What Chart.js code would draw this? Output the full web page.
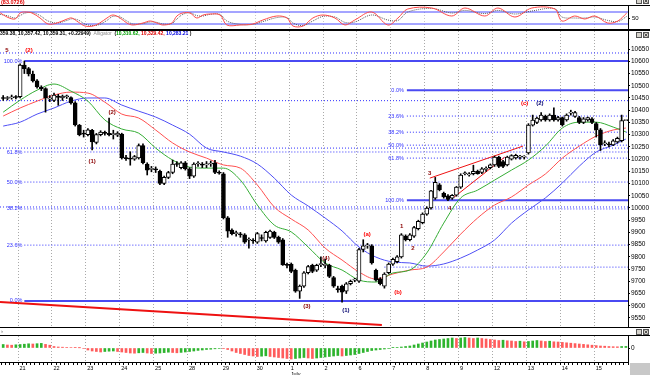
<!DOCTYPE html>
<html>
<head>
<meta charset="utf-8">
<title>Alligator</title>
<style>
  body { margin: 0; background: #fff; }
  .wrap { position: relative; width: 650px; height: 375px; overflow: hidden; background: #fff; }
  .wrap canvas { position: absolute; left: 0; }
</style>
</head>
<body>
<div class="wrap">
  <canvas id="osc" width="650" height="31" style="top:0"></canvas>
  <canvas id="main" width="650" height="296" style="top:31px"></canvas>
  <canvas id="hist" width="650" height="48" style="top:327px"></canvas>
</div>

<script src="https://cdn.jsdelivr.net/npm/chart.js"></script>
<script>
// ---- data (hourly bars, 8 per day) ----
const dayLabels = ['21', '22', '23', '24', '25', '28', '29', '30', '1', '2', '6', '7', '8', '9', '12', '13', '14', '15', '16'];
const barsPerDay = 8;
const firstDayEdge = 3.5;

const opens = [
  10452, 10448, 10450, 10455, 10455, 10585, 10570, 10548, 10520, 10495,
  10488, 10445, 10440, 10458, 10450, 10455, 10452, 10430, 10338, 10303,
  10300, 10318, 10268, 10300, 10308, 10305, 10300, 10298, 10302, 10205,
  10202, 10200, 10205, 10255, 10180, 10158, 10160, 10150, 10100, 10125,
  10145, 10180, 10165, 10185, 10160, 10130, 10180, 10178, 10176, 10180,
  10185, 10145, 10140, 9960, 9910, 9895, 9892, 9890, 9868, 9866,
  9860, 9878, 9865, 9880, 9900, 9880, 9870, 9767, 9770, 9745,
  9660, 9680, 9735, 9765, 9745, 9768, 9765, 9765, 9715, 9670,
  9680, 9660, 9690, 9705, 9700, 9830, 9845, 9845, 9745, 9710,
  9680, 9735, 9770, 9780, 9800, 9885, 9870, 9885, 9915, 9940,
  9975, 10000, 10040, 10095, 10060, 10050, 10040, 10052, 10085, 10140,
  10135, 10140, 10150, 10145, 10158, 10165, 10176, 10208, 10190, 10176,
  10200, 10205, 10208, 10208, 10225, 10339, 10350, 10360, 10375, 10360,
  10380, 10360, 10370, 10360, 10388, 10375, 10370, 10350, 10360, 10365,
  10345, 10320, 10262, 10260, 10258, 10270, 10275, 10357
];
const highs = [
  10460, 10456, 10462, 10460, 10590, 10601, 10575, 10560, 10525, 10500,
  10492, 10460, 10470, 10465, 10462, 10462, 10455, 10435, 10342, 10318,
  10325, 10322, 10305, 10316, 10315, 10368, 10318, 10312, 10306, 10215,
  10230, 10215, 10262, 10262, 10185, 10170, 10168, 10155, 10130, 10150,
  10196, 10190, 10190, 10190, 10165, 10185, 10190, 10186, 10190, 10192,
  10195, 10152, 10145, 9965, 9915, 9905, 9900, 9895, 9878, 9875,
  9900, 9890, 9905, 9910, 9905, 9885, 9875, 9775, 9775, 9750,
  9685, 9740, 9765, 9770, 9770, 9800, 9790, 9770, 9720, 9680,
  9685, 9695, 9705, 9712, 9835, 9870, 9855, 9850, 9750, 9715,
  9735, 9775, 9795, 9805, 9895, 9890, 9895, 9925, 9950, 9980,
  10005, 10072, 10125, 10100, 10065, 10055, 10055, 10088, 10140, 10148,
  10145, 10175, 10155, 10165, 10168, 10180, 10212, 10212, 10195, 10212,
  10218, 10220, 10215, 10214, 10345, 10380, 10372, 10390, 10380, 10385,
  10410, 10375, 10372, 10385, 10400, 10395, 10375, 10370, 10372, 10370,
  10350, 10325, 10275, 10270, 10280, 10290, 10380, 10359
];
const lows = [
  10440, 10442, 10445, 10446, 10450, 10550, 10540, 10515, 10490, 10480,
  10392, 10435, 10435, 10420, 10440, 10448, 10425, 10335, 10295, 10290,
  10295, 10237, 10262, 10295, 10298, 10295, 10282, 10292, 10200, 10195,
  10175, 10195, 10200, 10180, 10135, 10148, 10145, 10095, 10095, 10120,
  10140, 10170, 10160, 10155, 10120, 10125, 10170, 10165, 10165, 10170,
  10140, 10138, 9955, 9880, 9890, 9885, 9880, 9855, 9836, 9855,
  9855, 9865, 9860, 9875, 9875, 9855, 9765, 9755, 9735, 9655,
  9630, 9675, 9730, 9735, 9740, 9760, 9755, 9715, 9675, 9655,
  9615, 9650, 9685, 9698, 9695, 9820, 9835, 9770, 9700, 9685,
  9672, 9730, 9765, 9775, 9795, 9865, 9865, 9880, 9910, 9935,
  9970, 9995, 10035, 10070, 10040, 10030, 10035, 10048, 10080, 10135,
  10130, 10135, 10138, 10140, 10150, 10160, 10170, 10165, 10165, 10172,
  10196, 10200, 10200, 10200, 10220, 10335, 10345, 10355, 10355, 10355,
  10355, 10355, 10335, 10355, 10380, 10370, 10345, 10345, 10355, 10345,
  10290, 10235, 10255, 10250, 10255, 10265, 10270, 10357
];
const closes = [
  10448, 10450, 10455, 10452, 10585, 10570, 10548, 10520, 10495, 10488,
  10450, 10450, 10462, 10452, 10458, 10456, 10430, 10340, 10300, 10302,
  10320, 10270, 10300, 10310, 10305, 10300, 10302, 10306, 10205, 10202,
  10200, 10210, 10255, 10185, 10155, 10160, 10156, 10100, 10125, 10145,
  10180, 10178, 10185, 10160, 10130, 10180, 10182, 10175, 10178, 10182,
  10145, 10142, 9960, 9905, 9895, 9896, 9890, 9860, 9870, 9865,
  9895, 9875, 9900, 9905, 9880, 9860, 9767, 9765, 9740, 9660,
  9680, 9735, 9760, 9740, 9765, 9770, 9768, 9720, 9680, 9665,
  9655, 9690, 9700, 9705, 9830, 9845, 9846, 9775, 9705, 9690,
  9730, 9770, 9790, 9800, 9890, 9870, 9890, 9920, 9945, 9975,
  10000, 10070, 10105, 10075, 10045, 10035, 10052, 10085, 10135, 10143,
  10140, 10150, 10140, 10160, 10160, 10176, 10208, 10170, 10170, 10208,
  10214, 10215, 10208, 10209, 10339, 10360, 10368, 10380, 10360, 10380,
  10360, 10370, 10340, 10380, 10390, 10390, 10350, 10365, 10370, 10350,
  10320, 10258, 10265, 10258, 10275, 10285, 10357, 10359
];

// alligator lines, read every 4 bars
const lineIdx = [0, 4, 8, 12, 16, 20, 24, 28, 32, 36, 40, 44, 48, 52, 56, 60, 64, 68, 72, 76,
  80, 84, 88, 92, 96, 100, 104, 108, 112, 116, 120, 124, 128, 132, 136, 140, 144, 147];
const lips = [10392, 10441, 10482, 10507, 10478, 10437, 10360, 10323, 10306, 10245,
  10196, 10167, 10163, 10163, 10114, 10012, 9930, 9902, 9840, 9775,
  9746, 9705, 9697, 9734, 9746, 9816, 9938, 10041, 10073, 10114,
  10155, 10196, 10253, 10327, 10351, 10351, 10331, 10311];
const teeth = [10376, 10409, 10437, 10462, 10474, 10470, 10433, 10384, 10368, 10319,
  10266, 10229, 10204, 10176, 10163, 10094, 10004, 9955, 9910, 9836,
  9787, 9738, 9709, 9730, 9746, 9758, 9820, 9893, 9959, 10012,
  10045, 10094, 10139, 10204, 10253, 10294, 10319, 10327];
const jaw = [10335, 10351, 10384, 10409, 10437, 10450, 10450, 10421, 10396, 10372,
  10339, 10302, 10245, 10229, 10212, 10180, 10122, 10053, 10008, 9959,
  9906, 9840, 9799, 9779, 9775, 9762, 9771, 9795, 9828, 9869,
  9938, 9992, 10041, 10102, 10171, 10229, 10257, 10282];

// fibonacci levels
const leftFibPct = ['100.0%', '61.8%', '50.0%', '38.2%', '23.6%', '0.0%'];
const leftFibLevels = [10601, 10229, 10106, 9996, 9848, 9619];
const leftFibFrom = 5;
const rightFibPct = ['0.0%', '23.6%', '38.2%', '50.0%', '61.8%', '100.0%'];
const rightFibLevels = [10482, 10376, 10310, 10257, 10204, 10032];
const rightFibFrom = 95.3;
const extraLevels = [10634, 10439, 10245, 10004];
const lateLevel = 9758;
const lateLevelFrom = 90;

// trend lines [[bar, price], [bar, price]]
const trendLines = [
  [[-0.75, 9615], [89.4, 9521]],
  [[100.7, 10122], [122.7, 10253]],
  [[106.2, 10041], [118.4, 10208]]
];

const waveLabels = [
  ['5', 0.9, 10646, 'dark'], ['(2)', 6.1, 10646, 'red'], ['(2)', 25.7, 10390, 'dark'],
  ['(1)', 21, 10190, 'dark'], ['(4)', 76.2, 9792, 'dark'], ['(3)', 71.7, 9598, 'dark'],
  ['(1)', 80.9, 9583, 'navy'], ['(a)', 85.9, 9893, 'red'], ['(b)', 93.2, 9656, 'red'],
  ['1', 94.1, 9926, 'dark'], ['2', 96.7, 9836, 'dark'], ['3', 100.7, 10143, 'dark'],
  ['4', 105.4, 10000, 'dark'], ['(c)', 123.1, 10429, 'red'], ['(2)', 126.7, 10429, 'navy']
];

const priceTicks = [10650, 10600, 10550, 10500, 10450, 10400, 10350, 10300, 10250, 10200, 10150, 10100,
  10050, 10000, 9950, 9900, 9850, 9800, 9750, 9700, 9650, 9600, 9550];

// histogram (per bar)
const aoVals = [
  3.5, 3, 2.8, 3.2, 3.5, 3.8, 4.2, 4, 4.3, 4.6,
  3.6, 2.8, 1.5, 1, 0.8, 0.6, 0.5, 0.3, 0.2, -0.5,
  -2, -3, -3.5, -4, -3.5, -3.2, -3, -3.5, -4, -4.5,
  -5, -5.2, -4.8, -4.5, -5, -5.5, -5.2, -5, -4.6, -4.2,
  -4.5, -4.8, -4.4, -4, -3.5, -3, -2.4, -2, -1.5, -1.2,
  -0.8, -0.5, -0.6, -1.5, -3, -4.5, -5.5, -6.5, -7.5, -8,
  -8.5, -8.2, -7.8, -8.5, -9, -9.5, -10, -10.5, -11, -10.5,
  -10, -9.5, -10, -10.5, -10, -9.5, -9, -8.5, -8, -7.5,
  -8, -7.5, -7, -6.5, -5.5, -4.5, -3.5, -2.5, -2, -1.5,
  -1, -0.5, 0.3, 0.6, 1, 1.5, 2, 3, 4, 5,
  6, 7, 8, 8.5, 9, 9.5, 10, 9.5, 10, 10.5,
  10, 9.5, 10, 9.5, 9, 8.5, 8, 7.5, 7.8, 7.2,
  7, 6.5, 6.8, 6.2, 6.5, 7, 7.5, 7, 6.5, 6.8,
  6.2, 6, 5.6, 5.2, 4.8, 4.4, 4, 3.6, 3.2, 2.8,
  2.4, 2, 1.8, 1.5, 1.3, 1.2, 1.5, 1.6
];

// top oscillator
const oscIdx = [-0.7, 0.9, 2.8, 4.0, 5.1, 6.8, 8.7, 10.6, 12.7, 15.1,
  16.2, 17.7, 19.3, 21.2, 22.8, 24.5, 25.9, 27.6, 29.2, 30.6,
  33.0, 34.7, 36.3, 37.7, 39.8, 41.0, 42.4, 44.1, 45.7, 47.2,
  48.8, 51.2, 52.8, 55.9, 58.9, 61.3, 64.6, 67.0, 68.4, 70.8,
  73.1, 75.5, 78.3, 80.7, 83.0, 87.0, 90.8, 93.2, 95.5, 101.2,
  105.9, 109.0, 113.7, 116.8, 120.8, 124.8, 130.2, 131.9, 134.9, 137.3,
  139.7, 142.7, 145.1, 147.2];
const oscFast = [76, 55, 45, 75, 80, 75, 50, 20, 25, 45, 50, 30, 10, 10, 25, 50, 65, 50, 25, 15,
  25, 35, 25, 15, 25, 60, 75, 75, 50, 65, 70, 65, 15, 15, 20, 40, 60, 50, 10, 10,
  50, 65, 50, 15, 40, 80, 15, 50, 95, 100, 60, 100, 60, 100, 55, 100, 95, 35, 60, 45,
  60, 25, 35, 75];
const oscSlow = [68, 62, 50, 62, 74, 78, 62, 35, 25, 38, 46, 40, 20, 12, 18, 38, 58, 55, 35, 20,
  22, 30, 28, 20, 22, 45, 68, 76, 62, 60, 68, 68, 35, 18, 18, 32, 52, 52, 25, 12,
  35, 58, 55, 28, 30, 65, 40, 38, 80, 98, 75, 88, 72, 88, 70, 85, 97, 55, 50, 50,
  55, 38, 32, 58];
const oscBands = [80, 20];

// ---- setup ----
const X_MIN = -0.75, X_MAX = 147.5;
const AXIS_W = 22;
const FONT = 'Liberation Sans';
Chart.defaults.font.family = FONT;
Chart.defaults.font.size = 6;

const dayEdges = dayLabels.map((d, k) => firstDayEdge + k * barsPerDay);
const isDay = v => dayEdges.some(e => Math.abs(e - v) < 1e-6);
const GRID = '#a9a9a9';

function pts(xs, ys) { return xs.map((x, k) => ({ x: x, y: ys[k] })); }

function hLine(level, from, to, solid) {
  return {
    type: 'line', order: 9,
    data: [{ x: from, y: level }, { x: to, y: level }],
    borderColor: solid ? '#4a4af2' : '#2f2fff',
    borderWidth: solid ? 2 : 1,
    borderDash: solid ? [] : [1, 2],
    pointRadius: 0
  };
}

function hiddenX(extra) {
  return Object.assign({
    type: 'linear', min: X_MIN, max: X_MAX, offset: false,
    afterBuildTicks: s => { s.ticks = dayEdges.map(v => ({ value: v })); },
    afterFit: s => { s.height = 0; s.paddingLeft = 0; s.paddingRight = 0; },
    ticks: { display: false },
    grid: { offset: false, color: GRID, drawTicks: false },
    border: { display: false, dash: [1, 2] }
  }, extra || {});
}

function rightY(min, max, ticks, extra) {
  return Object.assign({
    type: 'linear', position: 'right', min: min, max: max,
    afterBuildTicks: s => { s.ticks = ticks.map(v => ({ value: v })); },
    afterFit: s => { s.width = AXIS_W; s.paddingTop = 0; s.paddingBottom = 0; },
    ticks: { callback: v => String(v), color: '#000', padding: 1, font: { size: 6.5 } },
    grid: { drawOnChartArea: false, tickLength: 2, color: '#000' },
    border: { display: true, color: '#000' }
  }, extra || {});
}

function drawIcons(ctx, y) {
  ctx.save();
  ctx.fillStyle = '#d6d3cc';
  ctx.strokeStyle = '#555';
  ctx.lineWidth = 1;
  [636, 643].forEach(x0 => {
    ctx.fillRect(x0, y, 6, 6);
    ctx.strokeRect(x0 + 0.5, y + 0.5, 5, 5);
  });
  ctx.beginPath();
  ctx.moveTo(644.5, y + 1.5); ctx.lineTo(647.5, y + 4.5);
  ctx.moveTo(647.5, y + 1.5); ctx.lineTo(644.5, y + 4.5);
  ctx.stroke();
  ctx.restore();
}

function hRule(ctx, y, x1, x2, w) {
  ctx.save();
  ctx.strokeStyle = '#000';
  ctx.lineWidth = w;
  ctx.beginPath();
  ctx.moveTo(x1, y); ctx.lineTo(x2, y);
  ctx.stroke();
  ctx.restore();
}

const baseOpts = {
  responsive: false, animation: false, events: [],
  plugins: { legend: { display: false }, tooltip: { enabled: false } }
};

// ---- top oscillator ----
new Chart(document.getElementById('osc'), {
  type: 'line',
  data: {
    datasets: [
      { data: pts(oscIdx, oscFast), borderColor: '#ff4a4a', borderWidth: 1, pointRadius: 0, tension: 0.35 },
      { data: pts(oscIdx, oscSlow), borderColor: '#5a5a5a', borderWidth: 1, borderDash: [1, 1], pointRadius: 0, tension: 0.35 },
      { data: [{ x: X_MIN, y: oscBands[0] }, { x: X_MAX, y: oscBands[0] }], borderColor: '#4b4bff', borderWidth: 1, pointRadius: 0 },
      { data: [{ x: X_MIN, y: oscBands[1] }, { x: X_MAX, y: oscBands[1] }], borderColor: '#4b4bff', borderWidth: 1, pointRadius: 0 }
    ]
  },
  options: Object.assign({}, baseOpts, {
    layout: { padding: { top: 6, bottom: 2 } },
    scales: {
      x: hiddenX({ grid: { offset: false, color: '#c8c8c8', drawTicks: false } }),
      y: rightY(-5, 110, [50], { ticks: { callback: v => String(v), color: '#000', padding: 2, font: { size: 6 } } })
    }
  }),
  plugins: [{
    id: 'oscFrame',
    afterDraw(chart) {
      const ctx = chart.ctx;
      hRule(ctx, 5.5, 0, 650, 1);
      hRule(ctx, 30, 0, 650, 2);
      ctx.save();
      ctx.font = 'bold 5.5px "' + FONT + '"';
      ctx.fillStyle = '#e00000';
      ctx.textBaseline = 'alphabetic';
      ctx.fillText('(83.0726)', 1, 4);
      ctx.restore();
      drawIcons(ctx, -2);
    }
  }]
});

// ---- main price panel ----
const mainSets = [];
mainSets.push({
  type: 'bar', order: 0, grouped: false,
  data: opens.map((o, i) => ({ x: i, y: [o, closes[i]] })),
  backgroundColor: c => closes[c.dataIndex] >= opens[c.dataIndex] ? '#ffffff' : '#000000',
  borderColor: '#000', borderWidth: 1, borderSkipped: false,
  barThickness: 4, minBarLength: 1
});
mainSets.push({
  type: 'bar', order: 1, grouped: false,
  data: highs.map((h, i) => ({ x: i, y: [lows[i], h] })),
  backgroundColor: '#000', barThickness: 1
});
mainSets.push({ type: 'line', order: 3, data: pts(lineIdx, lips), borderColor: '#35ad35', borderWidth: 1, pointRadius: 0, cubicInterpolationMode: 'monotone' });
mainSets.push({ type: 'line', order: 3, data: pts(lineIdx, teeth), borderColor: '#ff5050', borderWidth: 1, pointRadius: 0, cubicInterpolationMode: 'monotone' });
mainSets.push({ type: 'line', order: 3, data: pts(lineIdx, jaw), borderColor: '#4f4ff5', borderWidth: 1, pointRadius: 0, cubicInterpolationMode: 'monotone' });
trendLines.forEach((seg, k) => {
  mainSets.push({
    type: 'line', order: 2,
    data: seg.map(p => ({ x: p[0], y: p[1] })),
    borderColor: '#ee1111', borderWidth: k === 0 ? 2 : 1, pointRadius: 0
  });
});
leftFibLevels.forEach((lv, k) => {
  const solid = k === 0 || k === leftFibLevels.length - 1;
  mainSets.push(hLine(lv, leftFibFrom, X_MAX, solid));
});
rightFibLevels.forEach((lv, k) => {
  const solid = k === 0 || k === rightFibLevels.length - 1;
  mainSets.push(hLine(lv, rightFibFrom, X_MAX, solid));
});
extraLevels.forEach(lv => mainSets.push(hLine(lv, X_MIN, X_MAX, false)));
mainSets.push(hLine(lateLevel, lateLevelFrom, X_MAX, false));

const waveColors = { dark: '#8a0000', red: '#ff0000', navy: '#00006e' };

new Chart(document.getElementById('main'), {
  type: 'bar',
  data: { datasets: mainSets },
  options: Object.assign({}, baseOpts, {
    layout: { padding: 0 },
    scales: {
      x: hiddenX(),
      y: rightY(9513, 10724, priceTicks)
    }
  }),
  plugins: [{
    id: 'mainDecor',
    afterDatasetsDraw(chart) {
      const ctx = chart.ctx, xs = chart.scales.x, ys = chart.scales.y;
      ctx.save();
      ctx.textBaseline = 'middle';
      ctx.font = '5.5px "' + FONT + '"';
      ctx.fillStyle = '#3030ff';
      ctx.textAlign = 'right';
      leftFibLevels.forEach((lv, k) => {
        ctx.fillText(leftFibPct[k], xs.getPixelForValue(leftFibFrom) - 2, ys.getPixelForValue(lv) - (k === 5 ? 1 : 0));
      });
      rightFibLevels.forEach((lv, k) => {
        ctx.fillText(rightFibPct[k], xs.getPixelForValue(rightFibFrom) - 3, ys.getPixelForValue(lv));
      });
      ctx.font = 'bold 6px "' + FONT + '"';
      ctx.textAlign = 'center';
      waveLabels.forEach(w => {
        ctx.fillStyle = waveColors[w[3]];
        ctx.fillText(w[0], xs.getPixelForValue(w[1]), ys.getPixelForValue(w[2]));
      });
      // header line
      const parts = [
        ['359.38, 10,357.42, 10,359.31, +0.22949)', '#000', true],
        ['  Alligator  ', '#8e8e8e', false],
        ['(', '#000', true],
        ['10,310.62, ', '#00a000', true],
        ['10,329.42, ', '#e00000', true],
        ['10,283.21', '#0000e0', true],
        [' )', '#000', true]
      ];
      ctx.textAlign = 'left';
      let cx = 0;
      parts.forEach(p => {
        ctx.font = (p[2] ? 'bold ' : '') + '5px "' + FONT + '"';
        ctx.fillStyle = p[1];
        ctx.fillText(p[0], cx, 3);
        cx += ctx.measureText(p[0]).width;
      });
      ctx.restore();
      drawIcons(ctx, 1);
    }
  }]
});

// ---- histogram + date axis ----
new Chart(document.getElementById('hist'), {
  type: 'bar',
  data: {
    datasets: [{
      data: aoVals.map((v, i) => ({ x: i, y: v })),
      backgroundColor: c => (c.dataIndex > 0 && aoVals[c.dataIndex] < aoVals[c.dataIndex - 1]) ? '#ff5c5c' : '#2eb42e',
      barThickness: 2
    }]
  },
  options: Object.assign({}, baseOpts, {
    layout: { padding: { top: 9 } },
    scales: {
      x: {
        type: 'linear', min: X_MIN, max: X_MAX, offset: false,
        afterBuildTicks: s => {
          const t = [];
          for (let k = -1; k <= 147; k++) t.push({ value: k + 0.5 });
          s.ticks = t;
        },
        afterFit: s => { s.height = 13; s.paddingLeft = 0; s.paddingRight = 0; },
        ticks: {
          autoSkip: false, maxRotation: 0, minRotation: 0, align: 'start', padding: 0,
          color: '#000', font: { size: 5.5, lineHeight: 1.1 },
          callback: v => {
            const k = dayEdges.findIndex(e => Math.abs(e - v) < 1e-6);
            if (k < 0) return '';
            return dayLabels[k] === '1' ? [' ' + dayLabels[k], ' July'] : ' ' + dayLabels[k];
          }
        },
        grid: {
          offset: false,
          color: c => (c.tick && isDay(c.tick.value)) ? GRID : 'rgba(0,0,0,0)',
          tickColor: '#000', tickLength: 3
        },
        border: { display: false, dash: [1, 2] }
      },
      y: rightY(-14, 12, [0])
    }
  }),
  plugins: [{
    id: 'histFrame',
    afterDraw(chart) {
      const ctx = chart.ctx;
      hRule(ctx, 0.5, 0, 650, 1);
      hRule(ctx, 8.5, 0, 650, 1);
      hRule(ctx, 35.5, 0, 629, 1);
      ctx.save();
      ctx.fillStyle = '#c8c8c8';
      ctx.fillRect(630, 36, 20, 12);
      ctx.fillStyle = '#555';
      ctx.font = '6px "' + FONT + '"';
      ctx.textBaseline = 'middle';
      ctx.fillText('\u203A', 1, 4.5);
      ctx.restore();
      drawIcons(ctx, 2);
    }
  }]
});
</script>
</body>
</html>
